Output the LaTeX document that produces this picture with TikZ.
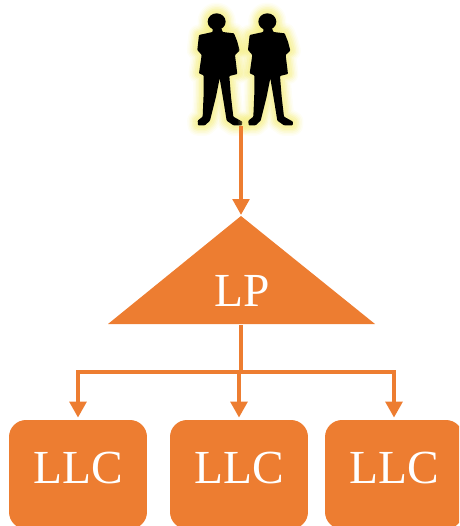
\documentclass[tikz,border=0pt]{standalone}
\usepackage{fontspec}
\setmainfont{Liberation Serif}
\usetikzlibrary{arrows.meta,calc}
\definecolor{lporange}{HTML}{ED7D31}
\definecolor{glowyellow}{HTML}{F5EE7E}
\tikzset{
    flow/.style={draw=lporange,line width=0.08cm,-{Triangle[length=0.32cm,width=0.33cm]}},
    stem/.style={draw=lporange,line width=0.08cm},
    llcbox/.style={fill=lporange,text=white,rounded corners=0.34cm,inner sep=0pt,minimum width=2.76cm,
        text height=1.26cm,text depth=0.92cm,font=\fontsize{27pt}{30pt}\selectfont},
    lptext/.style={text=white,inner sep=0pt,font=\fontsize{27pt}{30pt}\selectfont},
    manunits/.style={x=0.00667cm,y=-0.00667cm},
    manshape/.pic={
        \foreach \w/\o in {0.42/0.08,0.36/0.1,0.3/0.14,0.24/0.2,0.18/0.25,0.1/0.3}{
            \draw[glowyellow,line width=\w cm,opacity=\o,line join=round] (110,65) circle (26);
            \draw[glowyellow,line width=\w cm,opacity=\o,line join=round] \manoutline;
        }
        \fill[black] (110,65) ellipse (27 and 25);
        \fill[black,rounded corners=0.015cm] \manoutline;
    }
}
\newcommand{\manoutline}{(98,85) -- (124,85) -- (128,96) -- (162,100) -- (172,125) -- (179,152) -- (165,165)
    -- (172,222) -- (148,228) -- (153,290) -- (160,350) -- (187,365) -- (186,376) -- (160,376) -- (140,362)
    -- (130,300) -- (119,235) -- (108,290) -- (90,362) -- (75,376) -- (54,376) -- (53,362) -- (68,350)
    -- (71,280) -- (71,226) -- (57,220) -- (65,165) -- (52,150) -- (57,105) -- (98,96) -- cycle}
\begin{document}
\begin{tikzpicture}[x=0.02cm,y=-0.02cm]
    \useasboundingbox (0,0) rectangle (459,526);
    \clip (0,0) rectangle (459,526);

    % People
    \pic[manunits] at (540,0) {manshape};
    \pic[manunits] at (692,0) {manshape};
    \coordinate (people) at (241,126);

    % LP triangle
    \coordinate (lptop) at (241,216);
    \coordinate (lpleft) at (108,324);
    \coordinate (lpright) at (375,324);
    \coordinate (lpfoot) at (241,325);
    \coordinate (bus) at (241,372);
    \fill[lporange] (lptop) -- (lpright) -- (lpleft) -- cycle;
    \node[lptext,anchor=base] (lp) at (242,306) {LP};

    % LLC boxes
    \node[llcbox,anchor=base] (llca) at (78,483) {LLC};
    \node[llcbox,anchor=base] (llcb) at (239,483) {LLC};
    \node[llcbox,anchor=base] (llcc) at (394,483) {LLC};

    % Connectors
    \draw[flow,shorten >=0.02cm] (people) -- (lptop);
    \draw[stem] (lpfoot) -- (bus);
    \foreach \n in {llca,llcb,llcc}
        \draw[flow,shorten >=0.04cm] (bus) -| (\n.north);
\end{tikzpicture}
\end{document}
